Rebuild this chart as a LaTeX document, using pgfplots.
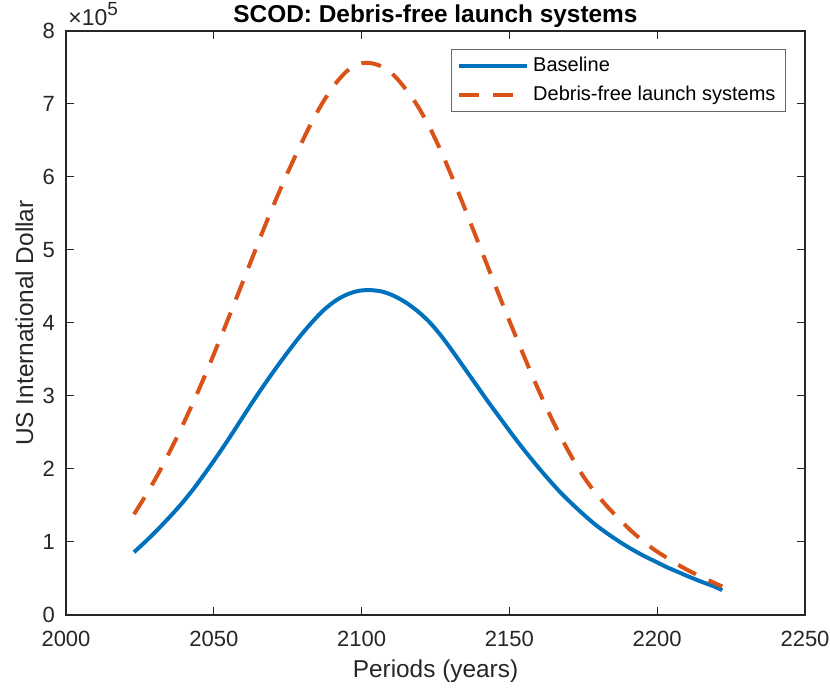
\documentclass[border=0pt]{standalone}
\usepackage{fontspec}
\setmainfont{Liberation Sans}
\usepackage{pgfplots}
\pgfplotsset{compat=1.18}
\definecolor{mblue}{rgb}{0,0.447,0.741}
\definecolor{morange}{rgb}{0.85,0.325,0.098}
\definecolor{axgray}{rgb}{0.15,0.15,0.15}
\begin{document}
\begin{tikzpicture}
\begin{axis}[
  name=ax,
  scale only axis,
  width=369.5pt, height=292pt,
  xmin=2000, xmax=2250, ymin=0, ymax=800000,
  xtick={2000,2050,2100,2150,2200,2250},
  ytick={0,100000,200000,300000,400000,500000,600000,700000,800000},
  yticklabels={0,1,2,3,4,5,6,7,8},
  scaled x ticks=false,
  scaled y ticks=false,
  /pgf/number format/assume math mode=true,
  /pgf/number format/1000 sep={},
  tick align=inside,
  major tick length=4pt,
  tick style={axgray, line width=0.5pt},
  axis line style={axgray, line width=0.6pt},
  ticklabel style={font=\fontsize{11}{13}\selectfont, text=axgray},
  xticklabel style={anchor=base, yshift=-16pt},
  yticklabel style={xshift=-2pt},
  title={\textbf{SCOD: Debris-free launch systems}},
  every axis title/.style={at={(rel axis cs:0.5,1)}, anchor=base, yshift=4pt, font=\fontsize{12.2}{14}\selectfont, text=black},
  xlabel={Periods (years)},
  ylabel={US International Dollar},
  every axis x label/.style={at={(rel axis cs:0.5,0)}, anchor=base, yshift=-31.3pt, font=\fontsize{12.2}{14}\selectfont, text=axgray},
  every axis y label/.style={at={(rel axis cs:0,0.5)}, xshift=-16.5pt, rotate=90, anchor=base, font=\fontsize{12.2}{14}\selectfont, text=axgray},
  legend style={at={(rel axis cs:1,1)}, anchor=north east, xshift=-9.5pt, yshift=-9pt,
    draw=axgray!70, line width=0.5pt, font=\fontsize{10}{12}\selectfont,
    inner xsep=3pt, inner ysep=2pt, row sep=1.5pt, text=black},
  legend cell align=left,
  legend image code/.code={\draw[#1] (0pt,0pt) -- (34pt,0pt);},
]
\addplot[mblue, line width=2pt, smooth, tension=0.5] coordinates {
(2023,86000) (2027,101000) (2031,117000) (2035,134000) (2039,152000)
(2043,172000) (2047,194000) (2051,217000) (2055,241000) (2059,266000)
(2063,291000) (2067,315000) (2071,338000) (2075,360000) (2079,381000)
(2083,400000) (2087,417000) (2091,430000) (2095,439000) (2099,444000)
(2103,445000) (2107,443000) (2111,437000) (2115,428000) (2119,416000)
(2123,401000) (2127,382000) (2131,360000) (2135,337000) (2139,314000)
(2143,291000) (2147,269000) (2151,247000) (2155,226000) (2159,206000)
(2163,187000) (2167,169000) (2171,153000) (2175,138000) (2179,124000)
(2183,112000) (2187,101000) (2191,91000) (2195,82000) (2199,74000)
(2203,66000) (2207,59000) (2211,52000) (2215,45500) (2219,39500)
(2222,34000)
};
\addlegendentry{Baseline}
\addplot[morange, line width=2pt, smooth, tension=0.5, dash pattern=on 10pt off 7pt] coordinates {
(2023,138000) (2027,164000) (2031,192000) (2035,223000) (2039,256000)
(2043,291000) (2047,328000) (2051,367000) (2055,407000) (2059,448000)
(2063,489000) (2067,530000) (2071,569000) (2075,606000) (2079,641000)
(2083,674000) (2087,703000) (2091,727000) (2095,745000) (2099,755000)
(2103,756000) (2107,751000) (2111,739000) (2115,720000) (2119,697000)
(2123,668000) (2127,634000) (2131,596000) (2135,556000) (2139,515000)
(2143,474000) (2147,433000) (2151,393000) (2155,354000) (2159,316000)
(2163,280000) (2167,247000) (2171,217000) (2175,190000) (2179,168000)
(2183,149000) (2187,132000) (2191,116000) (2195,102000) (2199,89500)
(2203,79000) (2207,69000) (2211,60000) (2215,52000) (2219,44500)
(2222,39000)
};
\addlegendentry{Debris-free launch systems}
\end{axis}
\node[anchor=base west, inner xsep=1pt, text=axgray] at ([yshift=2.5pt]ax.north west) {\fontsize{11.5}{13}\selectfont ×10\raisebox{0.9ex}{\fontsize{9.5}{10}\selectfont 5}};
\pgfresetboundingbox
\path[use as bounding box] ([shift={(-33pt,-36.5pt)}]ax.south west) rectangle ([shift={(12.5pt,15.5pt)}]ax.north east);
\end{tikzpicture}
\end{document}
